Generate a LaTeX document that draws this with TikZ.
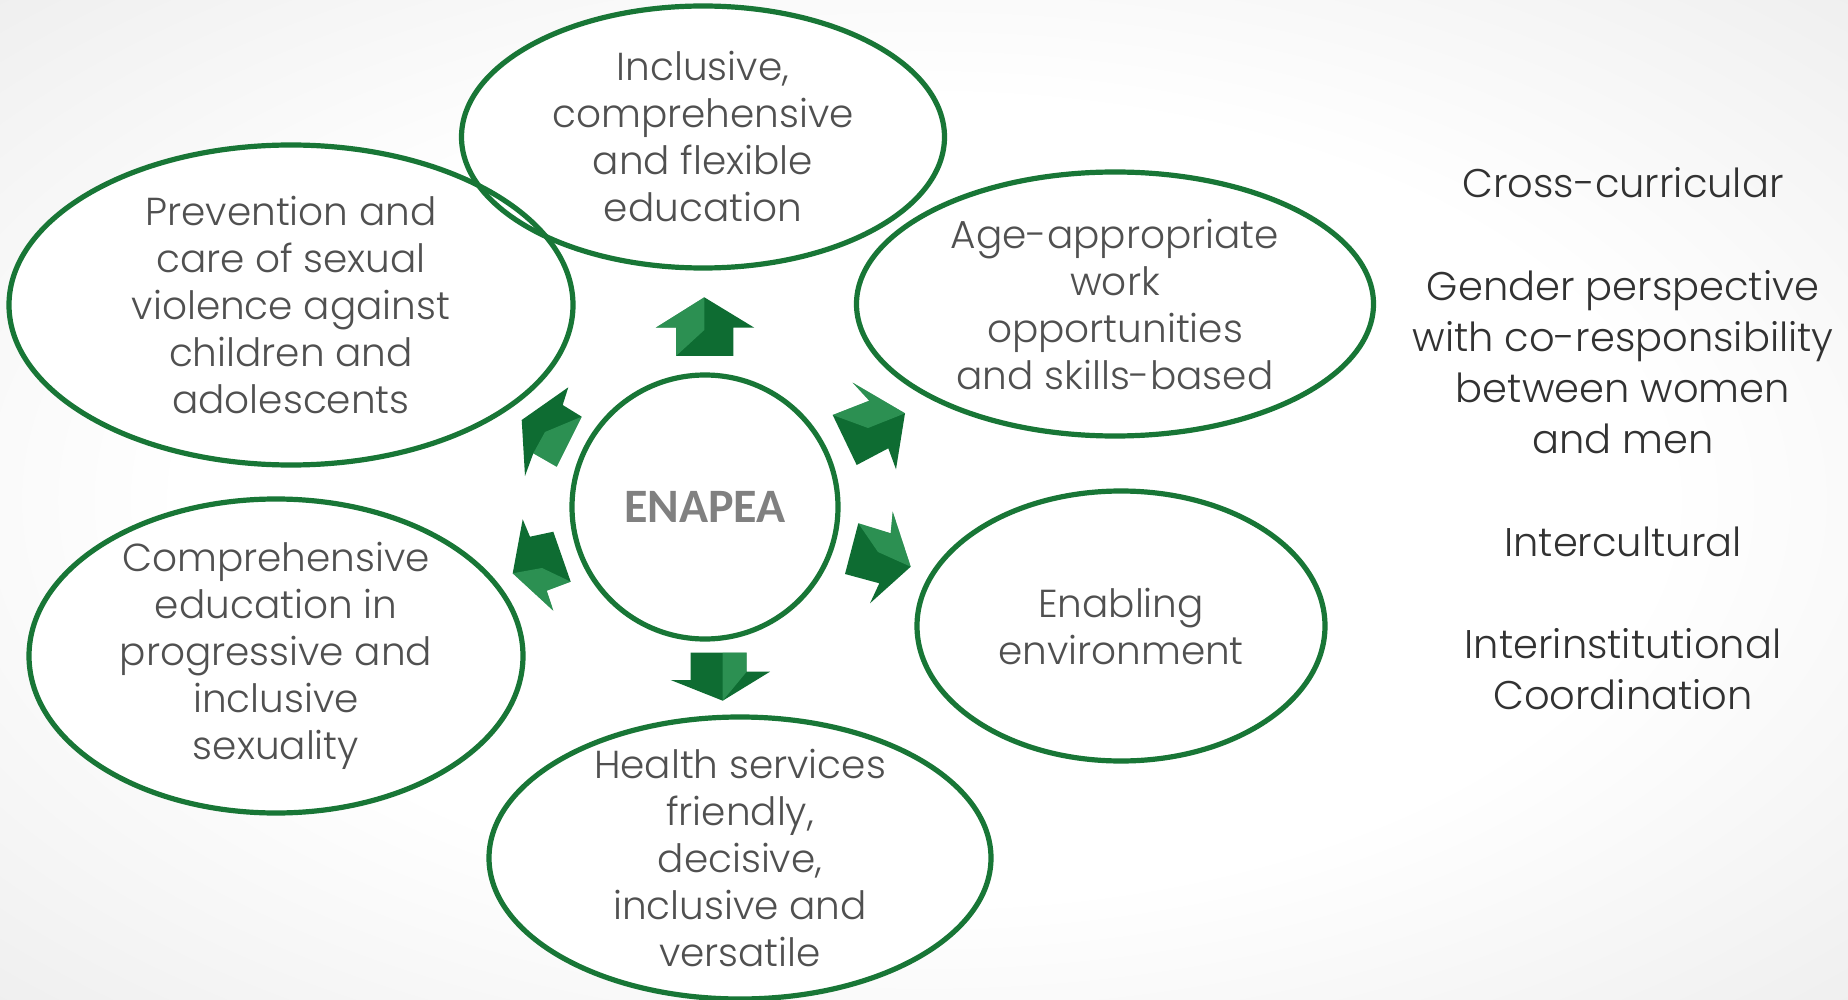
\documentclass[tikz,border=0pt]{standalone}
\usepackage{fontspec}
\setmainfont{Poppins}[UprightFont={* Light}]
\newfontfamily\enfont{Carlito}
\usetikzlibrary{shapes.geometric}
\definecolor{rimgreen}{RGB}{24,118,54}
\definecolor{arrdark}{RGB}{14,108,50}
\definecolor{arrlight}{RGB}{70,175,110}
\definecolor{txtgray}{RGB}{80,80,80}
\definecolor{sidegray}{RGB}{50,50,50}
\definecolor{engray}{RGB}{128,128,128}
\pgfdeclareradialshading{bgshade}{\pgfpoint{0bp}{0bp}}{color(0bp)=(white); color(20bp)=(white); color(50bp)=(black!12); color(71bp)=(black!22)}
\pgfdeclareradialshading{bubshade}{\pgfpoint{0bp}{0bp}}{color(0bp)=(white); color(30bp)=(white); color(45bp)=(black!7); color(50bp)=(black!18)}
\begin{document}
\begin{tikzpicture}[x=0.5pt,y=-0.5pt,
  bubble/.style={ellipse, shade, shading=bubshade, inner sep=-60pt, outer sep=0pt,
    align=center, text=txtgray, font=\fontsize{19.5}{23.5}\selectfont},
  rim/.style={draw=rimgreen, line width=2.6pt},
  arrbody/.style={fill=arrdark},
  arrfacet/.style={fill=arrlight, fill opacity=0.55},
  sidetext/.style={align=center, text=sidegray, font=\fontsize{20}{25.6}\selectfont}]
\useasboundingbox (0,0) rectangle (1848,1000);
\shade[shading=bgshade] (0,0) rectangle (1848,1000);

% bubbles (fill + text)
\node[bubble, minimum width=241.5pt, minimum height=131pt] (incl) at (703,137)
  {Inclusive,\\comprehensive\\and flexible\\education};
\node[bubble, minimum width=282pt, minimum height=160pt] (prev) at (291,305)
  {Prevention and\\care of sexual\\violence against\\children and\\adolescents};
\node[bubble, minimum width=258.5pt, minimum height=132pt] (age) at (1115,304)
  {Age-appropriate\\work\\opportunities\\and skills-based};
\node[bubble, minimum width=247pt, minimum height=157pt] (comp) at (276,656)
  {Comprehensive\\education in\\progressive and\\inclusive\\sexuality};
\node[bubble, minimum width=204pt, minimum height=135pt] (enab) at (1121,626)
  {Enabling\\environment};
\node[bubble, minimum width=251pt, minimum height=141pt] (health) at (740,858)
  {Health services\\friendly,\\decisive,\\inclusive and\\versatile};
\node[bubble, minimum width=133pt, minimum height=132pt, text=engray,
  font=\enfont\bfseries\fontsize{24}{28}\selectfont] (enapea) at (705,507) {ENAPEA};

% rims
\draw[rim] (incl.center) ellipse [x radius=241.5, y radius=131];
\draw[rim] (prev.center) ellipse [x radius=282, y radius=160];
\draw[rim] (age.center) ellipse [x radius=258.5, y radius=132];
\draw[rim] (comp.center) ellipse [x radius=247, y radius=157];
\draw[rim] (enab.center) ellipse [x radius=204, y radius=135];
\draw[rim] (health.center) ellipse [x radius=251, y radius=141];
\draw[rim] (enapea.center) ellipse [x radius=133, y radius=132];

% arrows
\fill[arrbody] (704.3,297.3) -- (754.3,327.7) -- (733.3,327.7) -- (733.3,356) -- (676,356) -- (676,327.7) -- (655.7,327.7) -- cycle;
\fill[arrfacet] (704.3,297.3) -- (704.3,330) -- (676,356) -- (676,327.7) -- (655.7,327.7) -- cycle;

\fill[arrbody] (690.7,652.7) -- (746.7,652.7) -- (746.7,671.7) -- (770,671.7) -- (722.7,700.7) -- (670.7,680) -- (690.7,680) -- cycle;
\fill[arrfacet] (722.7,652.7) -- (746.7,652.7) -- (746.7,671.7) -- (722.7,700.7) -- (722.7,675) -- cycle;

\fill[arrbody] (832.7,415) -- (869.3,400.7) -- (852.7,382.7) -- (905,413.3) -- (896,469.3) -- (888.3,448.3) -- (856.7,465) -- cycle;
\fill[arrfacet] (832.7,415) -- (869.3,400.7) -- (852.7,382.7) -- (905,413.3) -- (868,428) -- cycle;

\fill[arrbody] (858.3,523.3) -- (890.7,533.3) -- (892.7,511.7) -- (910.7,566.7) -- (870,603.3) -- (879.3,583.3) -- (845,574) -- cycle;
\fill[arrfacet] (858.3,523.3) -- (890.7,533.3) -- (892.7,511.7) -- (910.7,566.7) -- (878,552) -- cycle;

\fill[arrbody] (521.7,420) -- (568.3,387.3) -- (562.7,405) -- (581.7,416.7) -- (556.7,466.7) -- (533.3,453.3) -- (525,476) -- cycle;
\fill[arrfacet] (556.7,466.7) -- (533.3,453.3) -- (545,432) -- (581.7,416.7) -- cycle;

\fill[arrbody] (553.3,531.7) -- (530,536.7) -- (522.7,519.3) -- (512.7,573.3) -- (553.3,610.7) -- (546.7,590.7) -- (570.7,581.7) -- cycle;
\fill[arrfacet] (512.7,573.3) -- (553.3,610.7) -- (546.7,590.7) -- (570.7,581.7) -- (542,568) -- cycle;

% side text
\node[sidetext] (side) at (1623,439)
  {Cross-curricular\\[25.6pt]Gender perspective\\with co-responsibility\\between women\\and men\\[25.6pt]Intercultural\\[25.6pt]Interinstitutional\\Coordination};
\end{tikzpicture}
\end{document}
